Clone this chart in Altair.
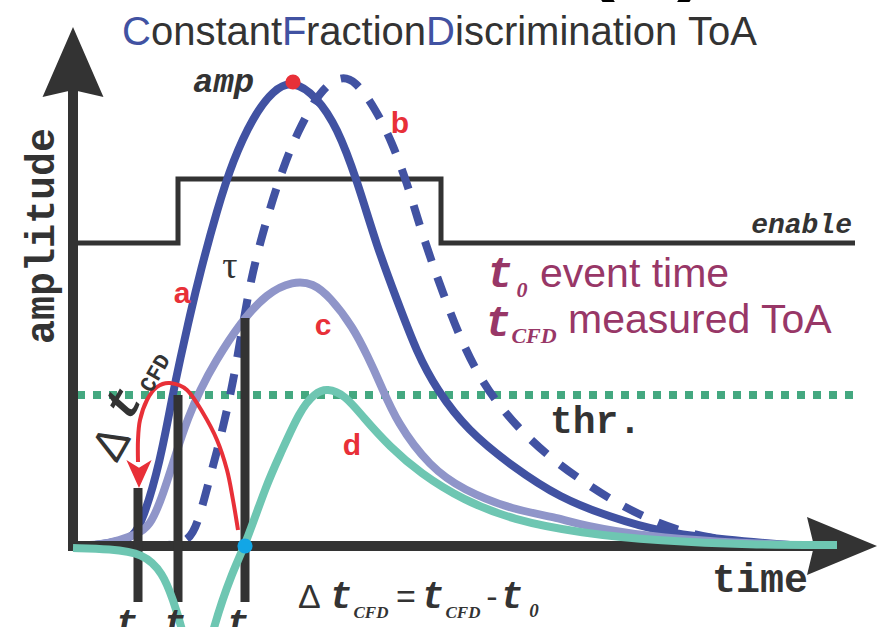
import altair as alt
import pandas as pd

# ---- curve samples: time (x) and amplitude (y) ----
a_t = [73,100,120,133,143,160,173,180,190,200,217,233,253,273,293,317,337,357,377,397,417,437,467,513,560,610,660,727,790]
a_v = [0,1,5,9,26,83,153,186,231,273,336,386,429,456,466,449,419,366,299,246,193,156,116,79,48,29,14,6,1]

b_t = [150,175,188,197,210,220,230,237,248,257,270,283,297,320,340,355,375,392,407,418,430,443,458,477,497,523,553,585,620,655,693,733,755]
b_v = [0,1,6,19,69,106,149,186,252,292,338,378,413,456,470,466,438,404,363,326,289,253,213,173,143,113,86,63,41,24,11,5,1]

c_t = [73,100,120,135,150,163,177,188,200,215,240,267,293,313,330,353,368,380,397,430,463,513,560,580,650,720,790]
c_v = [0,1,6,11,19,51,96,128,156,184,223,253,265,263,249,219,189,163,123,79,56,36,28,21,9,4,1]

d_t = [73,110,143,163,173,182,197,213,233,245,267,280,300,315,327,345,363,390,420,463,513,580,660,750,837]
d_v = [-2,-3,-7,-27,-54,-81,-150,-81,-24,0,63,91,136,153,158,151,129,99,73,46,26,13,5,1,1]

enable_t = [73,178,178,441,441,855]
enable_v = [303,303,367,367,303,303]

thr_level = 151
thr_from, thr_to = 77, 860

marker_t = [138, 178, 245]
marker_top = [58, 151, 228]
marker_bottom = -56

arc_t = [238,233,227,217,203,187,170,157,147,140,138,138]
arc_v = [16,46,76,106,133,156,163,159,146,126,106,84]

amp_peak = (293, 464)
zero_cross = (245, 0)

DARK = "#333333"
BLUE = "#4152a2"
LILAC = "#8f95c9"
TEAL = "#6ec6b2"
GREEN = "#44a880"
RED = "#e83038"
CYAN = "#12a6e6"
PURPLE = "#983767"

xs = alt.Scale(domain=[0, 884], nice=False, zero=False)
ys = alt.Scale(domain=[-81, 546], nice=False, zero=False)
X = alt.X("x:Q", scale=xs, axis=None)
Y = alt.Y("y:Q", scale=ys, axis=None)


def series(ts, vs):
    return pd.DataFrame({"x": ts, "y": vs, "i": list(range(len(ts)))})


def curve(ts, vs, color, width=8, dash=None, interp="basis"):
    kw = dict(color=color, strokeWidth=width, interpolate=interp, strokeCap="butt")
    if dash:
        kw["strokeDash"] = dash
    return alt.Chart(series(ts, vs)).mark_line(**kw).encode(x=X, y=Y, order="i:Q")


def texts(rows, **kw):
    df = pd.DataFrame(rows, columns=["x", "y", "text"])
    return alt.Chart(df).mark_text(**kw).encode(x=X, y=Y, text="text:N")


def head(x, y, shape, size, color):
    df = pd.DataFrame({"x": [x], "y": [y]})
    return alt.Chart(df).mark_point(shape=shape, size=size, filled=True, color=color,
                                    opacity=1, strokeWidth=0).encode(x=X, y=Y)


# axes
y_axis = alt.Chart(pd.DataFrame({"x": [73], "y": [-5], "y2": [456]})).mark_rule(
    color=DARK, strokeWidth=10, strokeCap="butt").encode(x=X, y=Y, y2="y2:Q")
x_axis = alt.Chart(pd.DataFrame({"x": [68], "x2": [820], "y": [0]})).mark_rule(
    color=DARK, strokeWidth=10, strokeCap="butt").encode(x=X, x2="x2:Q", y=Y)
y_head = head(73, 484, "M0,-1L0.87,1L0,0.8L-0.87,1Z", 4900, DARK)
x_head = head(842, 0, "M1,0L-1,-0.83L-0.8,0L-1,0.83Z", 4900, DARK)

enable = curve(enable_t, enable_v, DARK, width=5, interp="linear")
thr = alt.Chart(pd.DataFrame({"x": [thr_from], "x2": [thr_to], "y": [thr_level]})).mark_rule(
    color=GREEN, strokeWidth=8, strokeDash=[8, 8], strokeCap="butt").encode(x=X, x2="x2:Q", y=Y)

ca = curve(a_t, a_v, BLUE)
cb = curve(b_t, b_v, BLUE, dash=[21, 17])
cc = curve(c_t, c_v, LILAC)
cd = curve(d_t, d_v, TEAL)

markers = alt.Chart(pd.DataFrame({"x": marker_t, "y": marker_top,
                                  "y2": [marker_bottom] * len(marker_t)})).mark_rule(
    color=DARK, strokeWidth=9, strokeCap="butt").encode(x=X, y=Y, y2="y2:Q")

arc = curve(arc_t, arc_v, RED, width=4, interp="cardinal")
arc_head = head(139, 72, "M0,1L-0.9,-1L0,-0.45L0.9,-1Z", 784, RED)

dots = alt.Chart(pd.DataFrame({"x": [amp_peak[0], zero_cross[0]], "y": [amp_peak[1], zero_cross[1]],
                               "c": [RED, CYAN]})).mark_circle(size=230, opacity=1).encode(
    x=X, y=Y, color=alt.Color("c:N", scale=None))

# ---- text ----
SANS = "Liberation Sans"
title_blue = texts([(122, 501, "C"), (282, 501, "F"), (426, 501, "D")],
                   font=SANS, fontSize=40, color=BLUE, align="left", baseline="alphabetic")
title_gray = texts([(151, 501, "onstant"), (306, 501, "raction"), (455, 501, "iscrimination"),
                    (688, 501, "ToA")],
                   font=SANS, fontSize=40, color=DARK, align="left", baseline="alphabetic")
parens = texts([(600, 563, "("), (692, 563, ")")], font=SANS, fontSize=90,
               fontWeight="bold", color="#000000", align="center", baseline="alphabetic")

MONO = "Liberation Mono"
amp_label = texts([(42, 310, "amplitude")], font=MONO, fontSize=40, fontWeight="bold",
                  color=DARK, angle=270, align="center", baseline="middle")
time_label = texts([(712, -46, "time")], font=MONO, fontSize=40, fontWeight="bold",
                   color=DARK, align="left", baseline="alphabetic")
thr_label = texts([(550, 113, "thr.")], font=MONO, fontSize=38, fontWeight="bold",
                  color=DARK, align="left", baseline="alphabetic")
enable_label = texts([(852, 313, "enable")], font=MONO, fontSize=28, fontWeight="bold",
                     fontStyle="italic", color=DARK, align="right", baseline="alphabetic")
amp_txt = texts([(193, 454, "amp")], font=MONO, fontSize=34, fontWeight="bold",
                fontStyle="italic", color=DARK, align="left", baseline="alphabetic")
letters = texts([(182, 243, "a"), (400, 413, "b"), (323, 211, "c"), (352, 91, "d")],
                font=SANS, fontSize=30, fontWeight="bold", color=RED,
                align="center", baseline="alphabetic")
tau = texts([(230, 268, "τ")], font="Liberation Serif", fontSize=38, color=DARK,
            align="center", baseline="alphabetic")

# legend-like purple text
p_t = texts([(500, 259, "t"), (498, 210, "t")], font=MONO, fontSize=44, fontWeight="bold",
            fontStyle="italic", color=PURPLE, align="center", baseline="alphabetic")
p_sub0 = texts([(522, 249, "0")], font="Liberation Serif", fontSize=22, fontStyle="italic",
               fontWeight="bold", color=PURPLE, align="center", baseline="alphabetic")
p_subc = texts([(534, 203, "CFD")], font="Liberation Serif", fontSize=22, fontStyle="italic",
               fontWeight="bold", color=PURPLE, align="center", baseline="alphabetic")
p_words = texts([(540, 259, "event time"), (568, 213, "measured ToA")],
                font=SANS, fontSize=41, color=PURPLE, align="left",
                baseline="alphabetic")

# formula at the bottom
f_delta = texts([(298, -62, "Δ")], font=SANS, fontSize=34, color=DARK,
                align="left", baseline="alphabetic")
f_t = texts([(341, -62, "t"), (433, -62, "t"), (512, -62, "t")], font=MONO, fontSize=38,
            fontWeight="bold", fontStyle="italic", color=DARK, align="center", baseline="alphabetic")
f_sub = texts([(371, -72, "CFD"), (463, -72, "CFD")], font="Liberation Serif", fontSize=17,
              fontWeight="bold", fontStyle="italic", color=DARK, align="center", baseline="alphabetic")
f_sub0 = texts([(534, -71, "0")], font="Liberation Serif", fontSize=19, fontWeight="bold",
               fontStyle="italic", color=DARK, align="center", baseline="alphabetic")
f_ops = texts([(406, -62, "="), (492, -62, "-")], font=SANS, fontSize=34,
              color=DARK, align="center", baseline="alphabetic")

# rotated delta label along the arrow
r_delta = texts([(112, 102, "Δ")], font=SANS, fontSize=46, color=DARK,
                angle=300, align="center", baseline="middle")
r_t = texts([(124, 142, "t")], font=MONO, fontSize=48, fontWeight="bold", fontStyle="italic",
            color=DARK, angle=300, align="center", baseline="middle")
r_sub = texts([(155, 173, "CFD")], font=MONO, fontSize=22, fontWeight="bold", color=DARK,
              angle=300, align="center", baseline="middle")

# cut-off time marks under the axis
t_marks = texts([(127, -90, "t"), (175, -90, "t"), (238, -90, "t")], font=MONO, fontSize=38,
                fontWeight="bold", fontStyle="italic", color=DARK, align="center",
                baseline="alphabetic")

chart = alt.layer(
    enable, thr, ca, cb, cc, x_axis, y_axis, y_head, x_head, markers, cd, arc, arc_head, dots,
    title_blue, title_gray, parens, amp_label, time_label, thr_label, enable_label, amp_txt,
    letters, tau, p_t, p_sub0, p_subc, p_words, f_delta, f_t, f_sub, f_sub0, f_ops,
    r_delta, r_t, r_sub, t_marks,
).properties(
    width=884, height=627, autosize=alt.AutoSizeParams(type="none"), padding=0,
    background="white",
).configure_view(stroke=None)

chart.save("out.html", embed_options={"renderer": "svg", "actions": False})
